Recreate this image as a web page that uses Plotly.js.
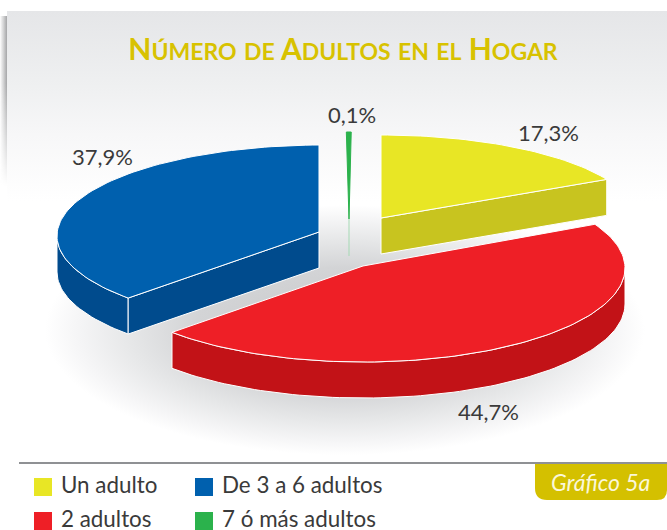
<!DOCTYPE html>
<html>
<head>
<meta charset="utf-8">
<script src="https://cdn.plot.ly/plotly-3.0.1.min.js"></script>
<style>
html,body{margin:0;padding:0;background:#fff;overflow:hidden}
#wrap{position:relative;width:667px;height:530px;overflow:hidden;background:#fff}
#panel{position:absolute;left:7px;top:11px;width:660px;height:190px;background:linear-gradient(to bottom,#e5e6e8 0%,#eff0f1 40%,#f7f7f8 65%,#ffffff 100%)}
#shade{position:absolute;left:0;top:16px;width:7px;height:170px;background:linear-gradient(to right,rgba(150,151,153,0) 0%,rgba(150,151,153,.85) 100%);-webkit-mask-image:linear-gradient(to bottom,#000 0%,#000 40%,transparent 100%)}
#ground{position:absolute;left:45px;top:205px;width:600px;height:250px;background:radial-gradient(ellipse 50% 50% at 50% 50%,#c6c7c9 0%,#d3d4d6 50%,#e6e7e8 72%,#f6f6f7 90%,rgba(255,255,255,0) 100%)}
#chart{position:absolute;left:0;top:0;width:667px;height:530px}
</style>
</head>
<body>
<div id="wrap">
  <div id="panel"></div><div id="shade"></div><div id="ground"></div>
  <div id="chart"></div>
</div>
<script>
// ---- data ----
const categories = ["Un adulto", "2 adultos", "De 3 a 6 adultos", "7 ó más adultos"];
const values = [17.3, 44.7, 37.9, 0.1];
const chartTitle = "Número de Adultos en el Hogar";
const badgeText = "Gráfico 5a";

// ---- styles ----
const topColors  = ["#e8e625", "#ee1f26", "#0060ae", "#2bb24c"];
const sideColors = ["#c8c41f", "#c21217", "#004b8d", "#2bb24c"];
const topEdges   = ["#ffffff", "#ffffff", "#ffffff", "#2bb24c"];
const sideEdges  = ["#ffffff", "#ffffff", "#ffffff", "#a5d9b4"];
const centerX = [381, 363, 322, 349];
const centerY = [218, 268, 236, 219];
const apexX   = [381, 363, 319, 349];
const apexY   = [218, 266, 232, 219];
const radiusX = [255, 262, 265, 255];
const radiusY = [83, 94, 91, 87];
const startTweak = [0, 0, 3.8, -0.24];
const endTweak   = [0, 3.6, -0.29, 0.5];
const depth = 36;
const labelX = [548, 488, 102, 352];
const labelY = [132, 411, 156, 114];
const labelFont = "Lato, 'Open Sans', sans-serif";
const ink = "#3a3a3a";

// ---- geometry from the values ----
const rad = d => d * Math.PI / 180;
function arc(i, a0, a1, dy) {
  const n = Math.max(2, Math.ceil(Math.abs(a1 - a0) / 1.5) + 1), xs = [], ys = [];
  for (let k = 0; k < n; k++) {
    const a = rad(a0 + (a1 - a0) * k / (n - 1));
    xs.push(centerX[i] + radiusX[i] * Math.sin(a));
    ys.push(centerY[i] - radiusY[i] * Math.cos(a) + dy);
  }
  return [xs, ys];
}
const total = values.reduce((s, v) => s + v, 0);
const traces = [];
function poly(xs, ys, color, edge, name) {
  traces.push({type: "scatter", mode: "lines", x: xs, y: ys, fill: "toself", fillcolor: color,
    line: {color: edge, width: 1}, hoverinfo: "text", text: name, showlegend: false});
}
let cum = 0;
const spans = values.map(v => { const s = [cum, cum + v / total * 360]; cum = s[1]; return s; });
[2, 0, 3, 1].forEach(i => {
  const a0 = spans[i][0] + startTweak[i], a1 = spans[i][1] + endTweak[i];
  const name = categories[i] + ": " + String(values[i]).replace(".", ",") + "%";
  const ax = apexX[i], ay = apexY[i];
  // curved front wall
  const s = Math.max(a0, 90), e = Math.min(a1, 270);
  if (e > s) {
    const t = arc(i, s, e, 0), b = arc(i, e, s, depth);
    poly(t[0].concat(b[0], [t[0][0]]), t[1].concat(b[1], [t[1][0]]), sideColors[i], sideEdges[i], name);
  }
  // flat cut walls that face the viewer
  const edge = a => {
    const p = arc(i, a, a, 0);
    poly([ax, p[0][0], p[0][0], ax, ax], [ay, p[1][0], p[1][0] + depth, ay + depth, ay], sideColors[i], sideEdges[i], name);
  };
  if (i !== 3) {
    if (Math.sin(rad(a0)) < 0) edge(a0);
    if (Math.sin(rad(a1)) > 0) edge(a1);
  } else {
    poly([ax, ax], [ay, ay + depth + 1], sideColors[i], sideEdges[i], name);
  }
  // top face
  const t = arc(i, a0, a1, 0);
  poly([ax].concat(t[0], [ax]), [ay].concat(t[1], [ay]), topColors[i], topEdges[i], name);
});

// legend swatches + names
const legendColumn = [0, 0, 1, 1], legendRow = [0, 1, 0, 1];
const swatchX = [43, 204], rowY = [487, 521];
traces.push({type: "scatter", mode: "markers+text", hoverinfo: "skip", showlegend: false,
  x: categories.map((c, i) => swatchX[legendColumn[i]]),
  y: categories.map((c, i) => rowY[legendRow[i]]),
  text: categories.map(c => " " + c), textposition: "middle right",
  textfont: {family: labelFont, size: 22.4, color: ink},
  marker: {symbol: "square", size: 18, color: topColors, line: {width: 0}}, cliponaxis: false});

const annotations = values.map((v, i) => ({
  x: labelX[i], y: labelY[i], xref: "x", yref: "y", showarrow: false,
  text: v.toFixed(1).replace(".", ",") + "%",
  font: {family: labelFont, size: 22, color: ink}
}));
annotations.push({x: 600, y: 482, xref: "x", yref: "y", showarrow: false,
  text: "<i>" + badgeText + "</i>", font: {family: labelFont, size: 23, color: "#fbf7d8"}});

// small-caps title built from the title string
const bigSize = 30, smallSize = 23;
const titleHtml = chartTitle.split(" ").map(w =>
  w[0] === w[0].toUpperCase()
    ? w[0] + '<span style="font-size:' + smallSize + 'px">' + w.slice(1).toUpperCase() + "</span>"
    : '<span style="font-size:' + smallSize + 'px">' + w.toUpperCase() + "</span>").join(" ");

const layout = {
  width: 667, height: 530,
  margin: {l: 0, r: 0, t: 0, b: 0},
  paper_bgcolor: "rgba(0,0,0,0)", plot_bgcolor: "rgba(0,0,0,0)",
  showlegend: false,
  title: {text: "<b>" + titleHtml + "</b>", x: 343 / 667, xanchor: "center", y: 1 - 60 / 530, yanchor: "bottom",
    font: {family: labelFont, size: bigSize, color: "#d8c200"}, pad: {t: 0, b: 0, l: 0, r: 0}},
  xaxis: {range: [0, 667], visible: false, fixedrange: true},
  yaxis: {range: [530, 0], visible: false, fixedrange: true},
  annotations: annotations,
  shapes: [
    {type: "line", xref: "x", yref: "y", x0: 19, x1: 667, y0: 463, y1: 463, line: {color: "#8f9194", width: 2}},
    {type: "path", xref: "x", yref: "y", fillcolor: "#d4c000", line: {width: 0},
      path: "M535,464 H667 V490 Q667,500 657,500 H547 Q535,500 535,488 Z"}
  ]
};
Plotly.newPlot("chart", traces, layout, {displayModeBar: false, responsive: false});
</script>
</body>
</html>
